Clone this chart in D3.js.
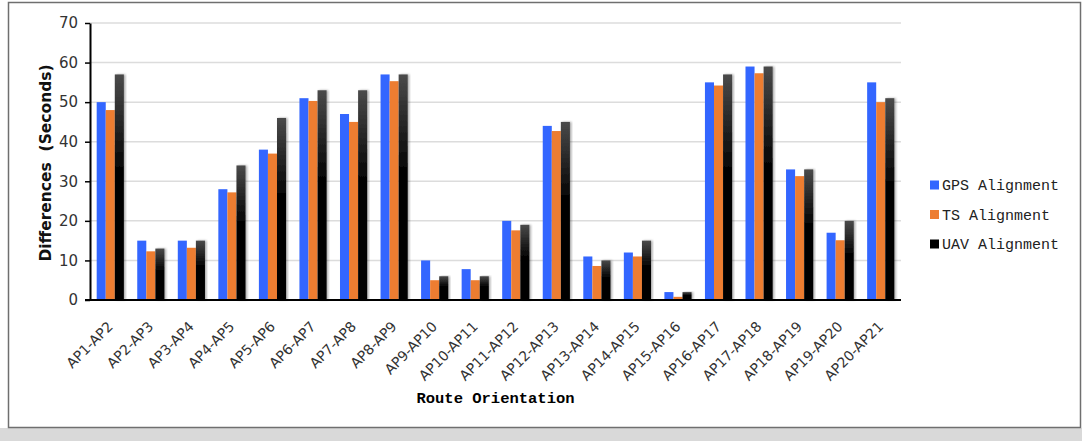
<!DOCTYPE html>
<html>
<head>
<meta charset="utf-8">
<script src="https://cdn.jsdelivr.net/npm/d3@7"></script>
<style>
  html, body { margin: 0; padding: 0; background: #fff; }
  svg { display: block; }
</style>
</head>
<body>
<div id="chart"></div>
<script>
// Chart data
let routes = ['AP1-AP2','AP2-AP3','AP3-AP4','AP4-AP5','AP5-AP6','AP6-AP7','AP7-AP8','AP8-AP9','AP9-AP10','AP10-AP11',
  'AP11-AP12','AP12-AP13','AP13-AP14','AP14-AP15','AP15-AP16','AP16-AP17','AP17-AP18','AP18-AP19','AP19-AP20','AP20-AP21']
let gpsValues = [50, 15, 15, 28, 38, 51, 47, 57, 10, 7.8, 20, 44, 11, 12, 2, 55, 59, 33, 17, 55]
let tsValues  = [48, 12.3, 13.2, 27.2, 37, 50.3, 45, 55.3, 5, 5, 17.6, 42.7, 8.6, 11, 0.8, 54.2, 57.3, 31.3, 15.1, 50]
let uavValues = [57, 13, 15, 34, 46, 53, 53, 57, 6, 6, 19, 45, 10, 15, 2, 57, 59, 33, 20, 51]
let seriesNames = ['GPS Alignment', 'TS Alignment', 'UAV Alignment']
let yTicks = [0, 10, 20, 30, 40, 50, 60, 70]

let W = 1082, H = 441
let margin = {t: 23, l: 90, r: 181, b: 141}
let plotW = W - margin.l - margin.r
let plotH = H - margin.t - margin.b

let svg = d3.select('#chart').append('svg')
  .attr('width', W)
  .attr('height', H)

// Gray strip at the bottom and frame
svg.append('rect').attr('x', 0).attr('y', 428).attr('width', W).attr('height', H - 428).attr('fill', '#d9d9d9')
svg.append('rect').attr('x', 8.5).attr('y', 2.5).attr('width', 1072).attr('height', 425)
  .attr('fill', '#fff').attr('stroke', '#6f6f6f').attr('stroke-width', 1.5)

let defs = svg.append('defs')
let grad = defs.append('linearGradient').attr('id', 'uavGrad')
  .attr('x1', '0%').attr('y1', '0%').attr('x2', '0%').attr('y2', '100%')
grad.append('stop').attr('offset', '0%').attr('stop-color', '#4a4a4a')
grad.append('stop').attr('offset', '45%').attr('stop-color', '#000')
grad.append('stop').attr('offset', '100%').attr('stop-color', '#000')

let shadow = defs.append('filter').attr('id', 'shadow')
  .attr('x', '-30%').attr('y', '-5%').attr('width', '160%').attr('height', '110%')
shadow.append('feDropShadow').attr('dx', 1.5).attr('dy', 0).attr('stdDeviation', 1)
  .attr('flood-color', '#000').attr('flood-opacity', 0.35)

let g = svg.append('g').attr('transform', `translate(${margin.l},${margin.t})`)

let x = d3.scaleBand().domain(routes).range([0, plotW]).paddingInner(0.33).paddingOuter(0.165)
let xSub = d3.scaleBand().domain(seriesNames).range([0, x.bandwidth()])
let y = d3.scaleLinear().domain([0, 70]).range([plotH, 0])

// Gridlines
g.append('g').selectAll('line').data(yTicks.filter(d => d > 0)).enter().append('line')
  .attr('x1', 0).attr('x2', plotW)
  .attr('y1', d => y(d)).attr('y2', d => y(d))
  .attr('stroke', '#dcdcdc').attr('stroke-width', 1.5)

let colors = ['#3366ff', '#ed7d31', 'url(#uavGrad)']
let allValues = [gpsValues, tsValues, uavValues]

seriesNames.forEach(function(name, i) {
  g.append('g').selectAll('rect').data(routes).enter().append('rect')
    .attr('x', d => x(d) + xSub(name))
    .attr('y', (d, j) => y(allValues[i][j]))
    .attr('width', xSub.bandwidth())
    .attr('height', (d, j) => plotH - y(allValues[i][j]))
    .attr('fill', colors[i])
    .attr('filter', i == 2 ? 'url(#shadow)' : null)
})

// Y axis
let yAxis = d3.axisLeft(y).tickValues(yTicks).tickSize(5).tickSizeOuter(0)
let yAxisG = g.append('g').call(yAxis)
yAxisG.select('.domain').attr('stroke', '#000').attr('stroke-width', 2)
yAxisG.selectAll('.tick line').attr('stroke', '#000').attr('stroke-width', 1.5)
yAxisG.selectAll('.tick text')
  .attr('x', -12)
  .style('font-family', 'DejaVu Sans').style('font-size', '15px').attr('fill', '#333')

// X axis
let xAxis = d3.axisBottom(x).tickSize(0).tickSizeOuter(0)
let xAxisG = g.append('g').attr('transform', `translate(0,${plotH})`).call(xAxis)
xAxisG.select('.domain').attr('stroke', '#000').attr('stroke-width', 2)
  .attr('d', `M-5,0H${plotW}`)
xAxisG.selectAll('.tick text')
  .style('font-family', 'DejaVu Sans').style('font-size', '14px').attr('fill', '#333')
  .attr('text-anchor', 'end')
  .attr('dy', '0.35em')
  .attr('transform', 'translate(0,24) rotate(-45)')
  .attr('y', 0).attr('x', 0)

// Axis titles
svg.append('text')
  .attr('x', margin.l + plotW / 2).attr('y', 403)
  .attr('text-anchor', 'middle')
  .style('font-family', 'Liberation Mono').style('font-size', '15.5px').style('font-weight', 'bold')
  .text('Route Orientation')

svg.append('text')
  .attr('transform', `translate(51,${margin.t + 140}) rotate(-90)`)
  .attr('text-anchor', 'middle')
  .style('font-family', 'DejaVu Sans').style('font-size', '15.5px').style('font-weight', 'bold')
  .style('white-space', 'pre').attr('fill', '#111')
  .text('Differences  (Seconds)')

// Legend
let legend = svg.append('g').attr('transform', 'translate(930,185)')
seriesNames.forEach(function(name, i) {
  let row = legend.append('g').attr('transform', `translate(0,${i * 29.5})`)
  row.append('rect').attr('x', 0).attr('y', -4.5).attr('width', 9).attr('height', 9)
    .attr('fill', i == 2 ? '#000' : colors[i])
  row.append('text').attr('x', 12).attr('y', 0).attr('dy', '0.35em')
    .style('font-family', 'Liberation Mono').style('font-size', '15px').attr('fill', '#222')
    .text(name)
})
</script>
</body>
</html>
